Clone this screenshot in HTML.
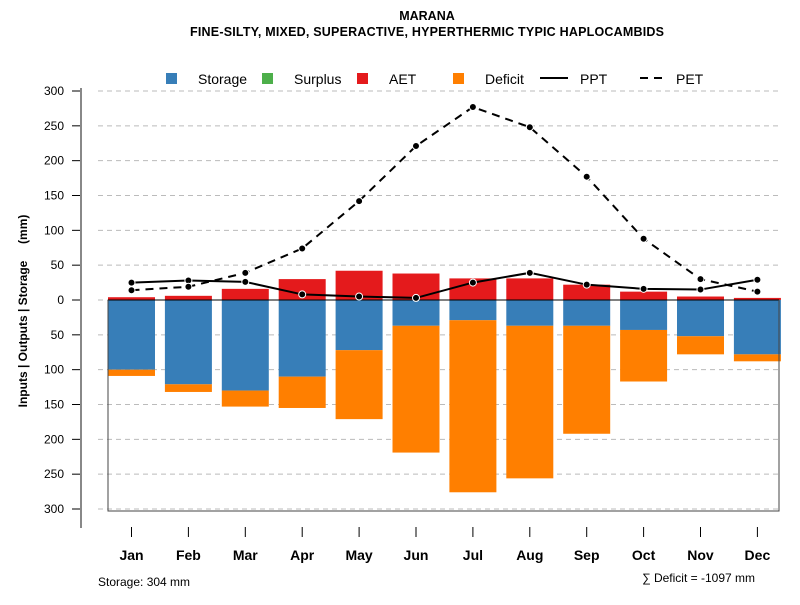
<!DOCTYPE html>
<html><head><meta charset="utf-8"><style>
body{margin:0;background:#fff;font-family:"Liberation Sans",sans-serif}
</style></head><body>
<svg id="c" width="800" height="600" xmlns="http://www.w3.org/2000/svg" font-family="Liberation Sans, sans-serif">
<text x="427" y="20" text-anchor="middle" font-size="12.5" font-weight="bold">MARANA</text>
<text x="427" y="36" text-anchor="middle" font-size="12.5" font-weight="bold" textLength="474">FINE-SILTY, MIXED, SUPERACTIVE, HYPERTHERMIC TYPIC HAPLOCAMBIDS</text>
<g id="grid"></g><g id="bars"></g><g id="lines"></g><g id="axes"></g>
<g font-size="14">
<rect x="166" y="73" width="11" height="11" fill="#377eb8"/><text x="198" y="84">Storage</text>
<rect x="262" y="73" width="11" height="11" fill="#4daf4a"/><text x="294" y="84">Surplus</text>
<rect x="357" y="73" width="11" height="11" fill="#e41a1c"/><text x="389" y="84">AET</text>
<rect x="453" y="73" width="11" height="11" fill="#ff7f00"/><text x="485" y="84">Deficit</text>
<line x1="540" y1="78" x2="568" y2="78" stroke="#000" stroke-width="2"/><text x="580" y="84">PPT</text>
<line x1="640" y1="78" x2="668" y2="78" stroke="#000" stroke-width="2" stroke-dasharray="8,6"/><text x="676" y="84">PET</text>
</g>
<text x="98" y="586" font-size="12">Storage: 304 mm</text>
<text x="755" y="582" text-anchor="end" font-size="12">∑ Deficit = -1097 mm</text>
<text transform="translate(27,311) rotate(-90)" text-anchor="middle" font-size="12" font-weight="bold" xml:space="preserve" style="white-space:pre">Inputs | Outputs | Storage     (mm)</text>
</svg>
<script>
const months=["Jan","Feb","Mar","Apr","May","Jun","Jul","Aug","Sep","Oct","Nov","Dec"];
const aet=[4,6,16,30,42,38,31,31,22,12,5,3];
const storage=[100,121,130,110,72,37,29,37,37,43,52,78];
const deficit=[9,11,23,45,99,182,247,219,155,74,26,10];
const ppt=[25,28,26,8,5,3,25,39,22,16,15,29];
const pet=[14,19,39,74,142,221,277,248,177,88,30,12];
const yTicks=[300,250,200,150,100,50,0,50,100,150,200,250,300];
const NS="http://www.w3.org/2000/svg";
const y=v=>300-v*209/300;
const xc=i=>131.5+i*56.9;
function mk(t,a,p){const e=document.createElementNS(NS,t);for(const k in a)e.setAttribute(k,a[k]);p.appendChild(e);return e;}
const G=document.getElementById('grid'),B=document.getElementById('bars'),L=document.getElementById('lines'),A=document.getElementById('axes');
yTicks.forEach((t,i)=>{const v=i<6?t:-t;const yy=y(v);
let g=mk('line',{x1:98,x2:780,y1:yy,y2:yy,stroke:'#bbb','stroke-dasharray':'5,4'},G);

let tk=mk('line',{x1:72,x2:81,y1:yy,y2:yy,stroke:'#000'},A);

let tx=mk('text',{x:64,y:yy+4,'text-anchor':'end','font-size':12},A);tx.textContent=t;
});
let ax=mk('line',{x1:81,x2:81,y1:88,y2:528,stroke:'#888','stroke-width':2},A);

let box=mk('polyline',{points:'108,300 108,511 779,511 779,300',fill:'none',stroke:'#444'},A);

months.forEach((m,i)=>{const x0=xc(i)-23.5;
let r=mk('rect',{x:x0,y:y(aet[i]),width:47,height:y(0)-y(aet[i]),fill:'#e41a1c'},B);

r=mk('rect',{x:x0,y:y(0),width:47,height:y(-storage[i])-y(0),fill:'#377eb8'},B);

r=mk('rect',{x:x0,y:y(-storage[i]),width:47,height:y(-storage[i]-deficit[i])-y(-storage[i]),fill:'#ff7f00'},B);

let tk=mk('line',{x1:xc(i),x2:xc(i),y1:527,y2:537,stroke:'#000'},A);

let t=mk('text',{x:xc(i),y:560,'text-anchor':'middle','font-size':14,'font-weight':'bold'},A);t.textContent=m;
});
let zl=mk('line',{x1:108,x2:779,y1:300,y2:300,stroke:'#000'},B);

[[ppt,'ppt',null],[pet,'pet','8,6']].forEach(([d,n,da])=>{
let p=mk('polyline',{points:d.map((v,i)=>xc(i)+','+y(v)).join(' '),fill:'none',stroke:'#000','stroke-width':2},L);
if(da)p.setAttribute('stroke-dasharray',da);

d.forEach((v,i)=>{let c=mk('circle',{cx:xc(i),cy:y(v),r:3.5,fill:'#000',stroke:'#fff','stroke-width':1},L);
});});
</script>
</body></html>
